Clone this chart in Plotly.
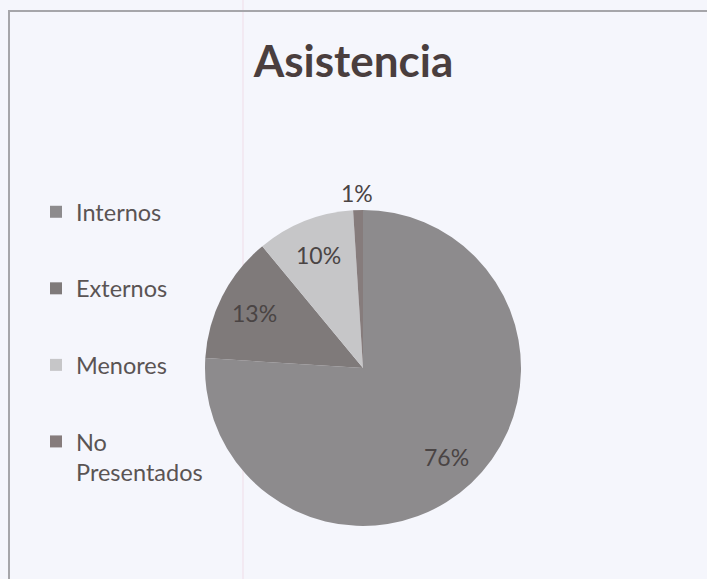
import math
import plotly.graph_objects as go

labels = ["Internos", "Externos", "Menores", "No Presentados"]
legend_names = ["Internos", "Externos", "Menores", "No<br>Presentados"]
values = [76, 13, 10, 1]
colors = ["#8d8b8d", "#7f7a7a", "#c6c6c8", "#867c7c"]

W, H = 707, 579
CX, CY, R = 363, 211, 158  # pie centre (px from left / bottom) and radius
BG = "#f5f6fc"

fig = go.Figure()
fig.add_trace(go.Pie(
    labels=labels, values=values, sort=False, direction="clockwise", rotation=0,
    marker=dict(colors=colors, line=dict(width=0)),
    textinfo="none",
    showlegend=False, hoverinfo="label+percent",
    domain=dict(x=[(CX - R) / W, (CX + R) / W], y=[(CY - R) / H, (CY + R) / H]),
))

# percentage labels placed the way the original spreadsheet chart places them
total = sum(values)
cum = 0
annotations = []
for v in values:
    frac = v / total
    mid = (cum + frac / 2) * 2 * math.pi
    cum += frac
    f = 0.77 if frac > 0.03 else 1.11
    annotations.append(dict(
        x=(CX + R * f * math.sin(mid)) / W, y=(CY + R * f * math.cos(mid)) / H,
        xref="paper", yref="paper", xanchor="center", yanchor="middle", showarrow=False,
        text=f"{round(frac * 100)}%",
        font=dict(family="Lato", size=23, color="#4a4444"),
    ))

for i, (n, c) in enumerate(zip(legend_names, colors)):
    fig.add_trace(go.Scatter(
        x=[None], y=[None], mode="markers", name=n,
        marker=dict(symbol="square", size=12, color=c),
        legendgroup=f"g{i}", showlegend=True,
    ))

fig.update_layout(
    width=W, height=H,
    margin=dict(l=0, r=0, t=0, b=0, autoexpand=False),
    paper_bgcolor=BG, plot_bgcolor="rgba(0,0,0,0)",
    xaxis=dict(visible=False), yaxis=dict(visible=False),
    title=dict(text="<b>Asistencia</b>", x=0.5, xanchor="center", y=1 - 62 / H, yanchor="middle",
               font=dict(family="Lato", size=44, color="#4a3e3e")),
    legend=dict(x=36 / W, y=1 - 190 / H, xanchor="left", yanchor="top",
                font=dict(family="Lato", size=23.5, color="#5a5454"),
                tracegroupgap=43, valign="top", bgcolor="rgba(0,0,0,0)",
                itemwidth=30),
    annotations=annotations,
    shapes=[
        dict(type="line", xref="paper", yref="paper", x0=243 / W, x1=243 / W, y0=0, y1=1,
             layer="below", line=dict(color="#f0dde8", width=1)),
        dict(type="rect", xref="paper", yref="paper",
             x0=9 / W, x1=1.01, y0=-0.01, y1=1 - 11 / H,
             line=dict(color="#a6a6aa", width=2)),
    ],
)
fig.write_html(
    "out.html",
    config={"displayModeBar": False},
    post_script="document.body.style.margin='0';document.body.style.background='%s';"
                "document.documentElement.style.overflow='hidden';" % BG,
)
